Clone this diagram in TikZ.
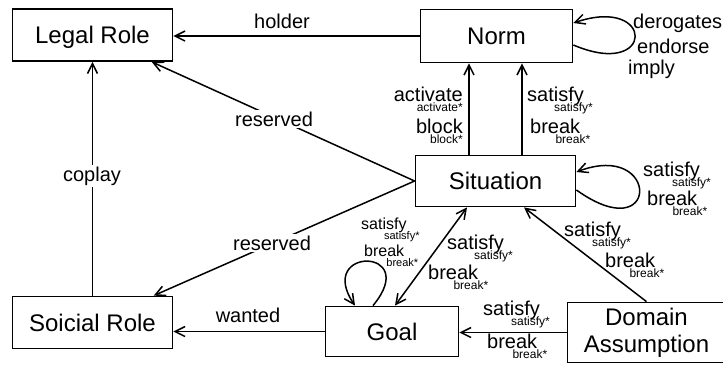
\documentclass[tikz,border=0pt]{standalone}
\usepackage{fontspec}
\setmainfont{Liberation Sans}
\usetikzlibrary{arrows.meta,calc}

% relation name with its starred variant set small, below and to the right
\newcommand\rel[3][10pt]{{\fontsize{20}{24}\selectfont #2}\hspace*{#1}\llap{\raisebox{-10pt}{\fontsize{12}{14}\selectfont #3}}}
\newcommand\relsm[3][13pt]{{\fontsize{16}{19}\selectfont #2}\hspace*{#1}\llap{\raisebox{-10pt}{\fontsize{11}{13}\selectfont #3}}}

\tikzset{
  box/.style={draw, line width=1.8pt, inner sep=0pt, font=\fontsize{24}{27}\selectfont},
  onebox/.style={box, text height=17pt, text depth=0pt},
  edge/.style={line width=1.5pt, -{Straight Barb[length=10pt,width=10pt,line width=1.5pt]}},
  twoway/.style={line width=1.5pt, {Straight Barb[length=10pt,width=10pt,line width=1.5pt]}-{Straight Barb[length=10pt,width=10pt,line width=1.5pt]}},
  lab/.style={inner sep=0pt, anchor=base, font=\fontsize{20}{24}\selectfont},
  cutlab/.style={lab, fill=white, inner sep=2pt},
  rlab/.style={inner sep=0pt, anchor=base west},
}

\begin{document}
\begin{tikzpicture}[x=1pt, y=-1pt]
\useasboundingbox (0,0) rectangle (723,365);

% concepts
\node[onebox, minimum width=160pt, minimum height=52pt] (legal)  at (92.5,35)   {Legal Role};
\node[onebox, minimum width=152pt, minimum height=53pt] (norm)   at (496.5,36)  {Norm};
\node[onebox, minimum width=160pt, minimum height=51pt] (sit)    at (495.5,181) {Situation};
\node[onebox, minimum width=133pt, minimum height=50pt] (goal)   at (392,331.5) {Goal};
\node[onebox, minimum width=160pt, minimum height=52pt] (social) at (92.5,322.5) {Soicial Role};
% this box runs past the right margin, so its text is pulled back to the left
\node[box, align=center, minimum width=166pt, minimum height=60pt] (dom) at (650.5,332.5) {Domain\hspace*{8pt}\\Assumption\hspace*{8pt}};

% role relations
\draw[edge] (norm.west) -- (norm.west -| legal.east);
\node[lab] (lholder) at (282,28) {holder};
\draw[edge] (sit.west) -- (legal);
\node[cutlab] (lres1) at (274,126) {reserved};
\draw[edge] (sit.west) -- (social);
\node[cutlab] (lres2) at (272,250) {reserved};
\draw[edge] (social) -- (legal);
\node[cutlab] (lcoplay) at (92,181) {coplay};
\draw[edge] (goal.west) -- (goal.west -| social.east);
\node[lab] (lwanted) at (248,322) {wanted};

% situation to norm
\coordinate (sa) at ($(sit.north)+(-26.5,0)$);
\coordinate (sb) at ($(sit.north)+(26.5,0)$);
\draw[edge] (sa) -- (sa |- norm.south);
\draw[edge] (sb) -- (sb |- norm.south);
\node[rlab, anchor=base east] (lact) at (463,101) {\rel[0pt]{activate}{activate*}};
\node[rlab, anchor=base east] (lblk) at (463,133) {\rel[0pt]{block}{block*}};
\node[rlab] (lns) at (527,101) {\rel[9pt]{satisfy}{satisfy*}};
\node[rlab] (lnb) at (530,133) {\rel{break}{break*}};

% norm self relation
\draw[edge] ($(norm.east)+(0,9)$) .. controls +(82,35) and +(82,-28) .. ($(norm.east)+(0,-13)$);
\node[rlab, font=\fontsize{20}{24}\selectfont] (lder) at (633,28) {derogates};
\node[rlab, font=\fontsize{20}{24}\selectfont] (lend) at (637,53) {endorse};
\node[rlab, font=\fontsize{20}{24}\selectfont] (limp) at (628,74) {imply};

% situation self relation
\draw[edge] ($(sit.east)+(0,9)$) .. controls +(84,60) and +(84,-32) .. ($(sit.east)+(0,-9)$);
\node[rlab] (lss) at (643,176) {\rel[11pt]{satisfy}{satisfy*}};
\node[rlab] (lsb) at (647,205) {\rel{break}{break*}};

% goal and situation
\draw[twoway] ($(goal.north)+(3,0)$) -- ($(sit.south)+(-28.5,0)$);
\node[rlab] (lgs) at (447,249) {\rel[9pt]{satisfy}{satisfy*}};
\node[rlab] (lgb) at (428,279) {\rel{break}{break*}};

% goal self relation
\draw[edge] ($(goal.north)+(-19,0)$) .. controls +(49,-59) and +(-40,-59) .. ($(goal.north)+(-37,0)$);
\node[rlab] (lls) at (361,229) {\relsm{satisfy}{satisfy*}};
\node[rlab] (llb) at (364,256) {\relsm[14pt]{break}{break*}};

% domain assumption relations
\draw[edge] ($(dom.north)+(-4,0)$) -- ($(sit.south)+(28.5,0)$);
\node[rlab] (lds) at (564,236) {\rel{satisfy}{satisfy*}};
\node[rlab] (ldb) at (605,267) {\rel[9pt]{break}{break*}};
\draw[edge] (dom.west) -- (dom.west -| goal.east);
\node[rlab] (lgds) at (483,315) {\rel{satisfy}{satisfy*}};
\node[rlab] (lgdb) at (487,348) {\rel{break}{break*}};
\end{tikzpicture}
\end{document}
